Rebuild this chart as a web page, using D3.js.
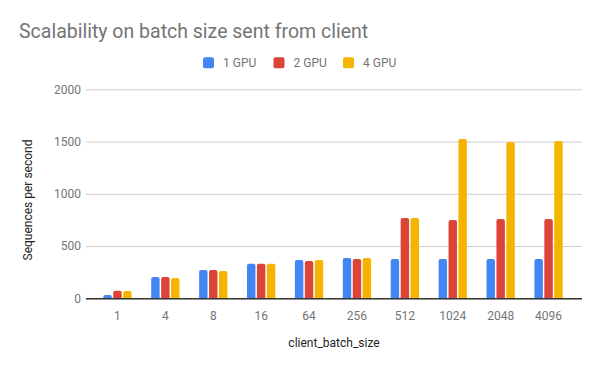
<!DOCTYPE html>
<html>
<head>
<meta charset="utf-8">
<script src="https://cdn.jsdelivr.net/npm/d3@7"></script>
<style>
  body { margin: 0; background: #fff; }
  text { font-family: Roboto, "Noto Sans", sans-serif; }
</style>
</head>
<body>
<svg id="chart" width="600" height="371"></svg>
<script>
const categories = ["1", "4", "8", "16", "64", "256", "512", "1024", "2048", "4096"];
const seriesNames = ["1 GPU", "2 GPU", "4 GPU"];
const gpu1 = [32, 204, 271, 331, 366, 385, 376, 376, 376, 376];
const gpu2 = [73, 204, 271, 331, 356, 376, 768, 749, 759, 759];
const gpu4 = [70, 194, 261, 331, 366, 385, 768, 1524, 1496, 1505];
const yTicks = [0, 500, 1000, 1500, 2000];
const colors = ["#4285f4", "#db4437", "#f4b400"];

const series = [gpu1, gpu2, gpu4];
const rows = categories.map((c, i) => ({ cat: c, values: series.map((s, j) => ({ key: seriesNames[j], value: s[i] })) }));

const svg = d3.select("#chart");
const plot = { left: 86, right: 582, top: 89.3, bottom: 298.3 };

const x0 = d3.scaleBand().domain(categories).range([93.5, 572.5]).paddingInner(0.41).paddingOuter(0.205);
const x1 = d3.scaleBand().domain(seriesNames).range([0, x0.bandwidth()]).paddingInner(0.15);
const y = d3.scaleLinear().domain([0, 2000]).range([plot.bottom, plot.top]);
const color = d3.scaleOrdinal().domain(seriesNames).range(colors);

// title
svg.append("text")
  .attr("x", 19).attr("y", 38)
  .attr("font-size", 19.5).attr("fill", "#757575")
  .text("Scalability on batch size sent from client");

// legend
const legendX = [203, 273.5, 343];
const legend = svg.append("g");
seriesNames.forEach((n, i) => {
  legend.append("rect")
    .attr("x", legendX[i]).attr("y", 57.3).attr("width", 11).attr("height", 11)
    .attr("rx", 2).attr("fill", colors[i]);
  legend.append("text")
    .attr("x", legendX[i] + 20).attr("y", 67.3)
    .attr("font-size", 12).attr("fill", "#757575")
    .text(n);
});

// gridlines
svg.append("g")
  .attr("transform", `translate(${plot.left},0)`)
  .call(d3.axisLeft(y).tickValues(yTicks).tickSize(-(plot.right - plot.left)).tickFormat(""))
  .call(g => g.select(".domain").remove())
  .call(g => g.selectAll(".tick line").attr("stroke", "#cccccc"));

// y tick labels
svg.append("g")
  .attr("transform", `translate(${plot.left},0)`)
  .call(d3.axisLeft(y).tickValues(yTicks).tickSize(0).tickPadding(5).tickFormat(d3.format("d")))
  .call(g => g.select(".domain").remove())
  .call(g => g.selectAll("text").attr("font-size", 12).attr("fill", "#757575").attr("font-family", "Roboto, sans-serif"));

// bars
const groups = svg.append("g").selectAll("g")
  .data(rows).join("g")
  .attr("transform", d => `translate(${x0(d.cat)},0)`);

groups.selectAll("path")
  .data(d => d.values).join("path")
  .attr("fill", d => color(d.key))
  .attr("d", d => {
    const bx = x1(d.key), bw = x1.bandwidth();
    const top = y(d.value), base = y(0), r = Math.min(2, (base - top) / 2);
    return `M${bx},${base}V${top + r}Q${bx},${top} ${bx + r},${top}H${bx + bw - r}Q${bx + bw},${top} ${bx + bw},${top + r}V${base}Z`;
  });

// x axis
svg.append("g")
  .attr("transform", `translate(0,${plot.bottom})`)
  .call(d3.axisBottom(x0).tickSize(0).tickPadding(13))
  .call(g => g.select(".domain").attr("d", `M${plot.left},0.5H${plot.right}`).attr("stroke", "#333333").attr("stroke-width", 1.5))
  .call(g => g.selectAll("text").attr("font-size", 12).attr("fill", "#757575").attr("font-family", "Roboto, sans-serif"));

// axis titles
svg.append("text")
  .attr("x", 334).attr("y", 347)
  .attr("text-anchor", "middle").attr("font-size", 12).attr("fill", "#222222")
  .text("client_batch_size");

svg.append("text")
  .attr("transform", "translate(32,200) rotate(-90)")
  .attr("text-anchor", "middle").attr("font-size", 12).attr("fill", "#222222")
  .text("Sequences per second");
</script>
</body>
</html>
